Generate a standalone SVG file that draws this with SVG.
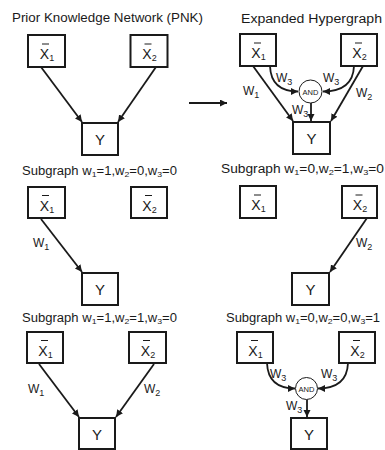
<svg xmlns="http://www.w3.org/2000/svg" width="385" height="450" viewBox="0 0 385 450">
<defs>
<marker id="ah" markerWidth="8" markerHeight="8" refX="7" refY="3.5" orient="auto" markerUnits="userSpaceOnUse">
<path d="M0,0 L7,3.5 L0,7 z" fill="#1a1a1a"/>
</marker>
<style>
text{font-family:"Liberation Sans",Arial,Helvetica,sans-serif;fill:#1a1a1a}
.title{font-size:12px}
.box{fill:#fff;stroke:#1a1a1a;stroke-width:2}
.and{fill:#fff;stroke:#1a1a1a;stroke-width:1}
.xl{font-size:14px}
.yl{font-size:15px}
.s{font-size:9px}
.ts{font-size:8px}
.wl{font-size:12px}
.andt{font-size:7.5px}
.bar{stroke:#1a1a1a;stroke-width:1}
.e{fill:none;stroke:#1a1a1a;stroke-width:1.8;marker-end:url(#ah)}
</style>
</defs>
<rect width="385" height="450" fill="#fff"/>

<!-- Titles -->
<g id="titles">
<text class="title" x="12" y="22" textLength="191" lengthAdjust="spacingAndGlyphs">Prior Knowledge Network (PNK)</text>
<text class="title" x="241" y="23" textLength="141" lengthAdjust="spacingAndGlyphs">Expanded Hypergraph</text>
<text class="title" x="22" y="175" textLength="155" lengthAdjust="spacingAndGlyphs">Subgraph w<tspan class="ts" dy="2">1</tspan><tspan dy="-2">=1,w</tspan><tspan class="ts" dy="2">2</tspan><tspan dy="-2">=0,w</tspan><tspan class="ts" dy="2">3</tspan><tspan dy="-2">=0</tspan></text>
<text class="title" x="221" y="173" textLength="163" lengthAdjust="spacingAndGlyphs">Subgraph w<tspan class="ts" dy="2">1</tspan><tspan dy="-2">=0,w</tspan><tspan class="ts" dy="2">2</tspan><tspan dy="-2">=1,w</tspan><tspan class="ts" dy="2">3</tspan><tspan dy="-2">=0</tspan></text>
<text class="title" x="22" y="322" textLength="155" lengthAdjust="spacingAndGlyphs">Subgraph w<tspan class="ts" dy="2">1</tspan><tspan dy="-2">=1,w</tspan><tspan class="ts" dy="2">2</tspan><tspan dy="-2">=1,w</tspan><tspan class="ts" dy="2">3</tspan><tspan dy="-2">=0</tspan></text>
<text class="title" x="226" y="322" textLength="154" lengthAdjust="spacingAndGlyphs">Subgraph w<tspan class="ts" dy="2">1</tspan><tspan dy="-2">=0,w</tspan><tspan class="ts" dy="2">2</tspan><tspan dy="-2">=0,w</tspan><tspan class="ts" dy="2">3</tspan><tspan dy="-2">=1</tspan></text>
</g>

<!-- Connectors -->
<g id="connectors">
<line class="e" x1="41" y1="67" x2="82" y2="122"/>
<line class="e" x1="156" y1="67" x2="118" y2="122"/>
<line class="e" x1="189" y1="103" x2="227" y2="103"/>
<line class="e" x1="253" y1="66" x2="293" y2="121"/>
<line class="e" x1="363" y1="66" x2="331" y2="121"/>
<path class="e" d="M270,66 Q271,91.5 298,91.5"/>
<path class="e" d="M354,66 Q353,91.5 323,91.5"/>
<line class="e" x1="311" y1="103" x2="311" y2="121"/>
<line class="e" x1="41" y1="219" x2="82" y2="272"/>
<line class="e" x1="367" y1="218" x2="330" y2="272"/>
<line class="e" x1="39" y1="364" x2="79" y2="417"/>
<line class="e" x1="154" y1="364" x2="116" y2="417"/>
<path class="e" d="M267,363 Q268,388.5 295,388.5"/>
<path class="e" d="M348,363 Q347,388.5 318,388.5"/>
<line class="e" x1="307" y1="399.5" x2="307" y2="417"/>
<text class="wl" x="243" y="95">W<tspan class="s" dy="3">1</tspan></text>
<text class="wl" x="356" y="97">W<tspan class="s" dy="3">2</tspan></text>
<text class="wl" x="276" y="82">W<tspan class="s" dy="3">3</tspan></text>
<text class="wl" x="323" y="82">W<tspan class="s" dy="3">3</tspan></text>
<text class="wl" x="292" y="114">W<tspan class="s" dy="3">3</tspan></text>
<text class="wl" x="33" y="247">W<tspan class="s" dy="3">1</tspan></text>
<text class="wl" x="356" y="247">W<tspan class="s" dy="3">2</tspan></text>
<text class="wl" x="28" y="393">W<tspan class="s" dy="3">1</tspan></text>
<text class="wl" x="144" y="393">W<tspan class="s" dy="3">2</tspan></text>
<text class="wl" x="270" y="378">W<tspan class="s" dy="3">3</tspan></text>
<text class="wl" x="321" y="378">W<tspan class="s" dy="3">3</tspan></text>
<text class="wl" x="286" y="410">W<tspan class="s" dy="3">3</tspan></text>
</g>

<!-- Panel: PNK -->
<g id="pnk-x1"><rect class="box" x="28" y="35" width="37" height="32"/><line class="bar" x1="42" y1="44" x2="49" y2="44"/><text class="xl" x="47" y="59" text-anchor="middle">X<tspan class="s" dy="2">1</tspan></text></g>
<g id="pnk-x2"><rect class="box" x="130.5" y="35" width="37" height="32"/><line class="bar" x1="144.5" y1="44" x2="151.5" y2="44"/><text class="xl" x="149.5" y="59" text-anchor="middle">X<tspan class="s" dy="2">2</tspan></text></g>
<g id="pnk-y"><rect class="box" x="82" y="123" width="36" height="32"/><text class="yl" x="100" y="145" text-anchor="middle">Y</text></g>

<!-- Panel: Expanded Hypergraph -->
<g id="hyp-x1"><rect class="box" x="240" y="34" width="36" height="32"/><line class="bar" x1="254" y1="43" x2="261" y2="43"/><text class="xl" x="258.5" y="58" text-anchor="middle">X<tspan class="s" dy="2">1</tspan></text></g>
<g id="hyp-x2"><rect class="box" x="341" y="34" width="36" height="32"/><line class="bar" x1="355" y1="43" x2="362" y2="43"/><text class="xl" x="359.5" y="58" text-anchor="middle">X<tspan class="s" dy="2">2</tspan></text></g>
<g id="hyp-and"><circle class="and" cx="310.5" cy="91.5" r="11.5"/><text class="andt" x="310.5" y="94.5" text-anchor="middle">AND</text></g>
<g id="hyp-y"><rect class="box" x="293" y="122" width="37" height="32"/><text class="yl" x="311.5" y="144" text-anchor="middle">Y</text></g>

<!-- Panel: w1 -->
<g id="s1-x1"><rect class="box" x="28" y="187" width="37" height="31"/><line class="bar" x1="42" y1="195.5" x2="49" y2="195.5"/><text class="xl" x="47" y="210.5" text-anchor="middle">X<tspan class="s" dy="2">1</tspan></text></g>
<g id="s1-x2"><rect class="box" x="131" y="187" width="36" height="31"/><line class="bar" x1="145" y1="195.5" x2="152" y2="195.5"/><text class="xl" x="149.5" y="210.5" text-anchor="middle">X<tspan class="s" dy="2">2</tspan></text></g>
<g id="s1-y"><rect class="box" x="82" y="273" width="36" height="32"/><text class="yl" x="100" y="295" text-anchor="middle">Y</text></g>

<!-- Panel: w2 -->
<g id="s2-x1"><rect class="box" x="240" y="186" width="36" height="32"/><line class="bar" x1="254" y1="195" x2="261" y2="195"/><text class="xl" x="258.5" y="210" text-anchor="middle">X<tspan class="s" dy="2">1</tspan></text></g>
<g id="s2-x2"><rect class="box" x="342" y="186" width="35" height="32"/><line class="bar" x1="355.5" y1="195" x2="362.5" y2="195"/><text class="xl" x="360" y="210" text-anchor="middle">X<tspan class="s" dy="2">2</tspan></text></g>
<g id="s2-y"><rect class="box" x="292" y="273" width="37" height="32"/><text class="yl" x="310.5" y="295" text-anchor="middle">Y</text></g>

<!-- Panel: w1,w2 -->
<g id="s3-x1"><rect class="box" x="27" y="332" width="36" height="31"/><line class="bar" x1="41" y1="340.5" x2="48" y2="340.5"/><text class="xl" x="45.5" y="355.5" text-anchor="middle">X<tspan class="s" dy="2">1</tspan></text></g>
<g id="s3-x2"><rect class="box" x="129" y="332" width="37" height="31"/><line class="bar" x1="143" y1="340.5" x2="150" y2="340.5"/><text class="xl" x="148" y="355.5" text-anchor="middle">X<tspan class="s" dy="2">2</tspan></text></g>
<g id="s3-y"><rect class="box" x="79" y="418" width="36" height="31"/><text class="yl" x="97" y="440" text-anchor="middle">Y</text></g>

<!-- Panel: w3 -->
<g id="s4-x1"><rect class="box" x="237" y="332" width="36" height="31"/><line class="bar" x1="251" y1="340.5" x2="258" y2="340.5"/><text class="xl" x="255.5" y="355.5" text-anchor="middle">X<tspan class="s" dy="2">1</tspan></text></g>
<g id="s4-x2"><rect class="box" x="339" y="332" width="36" height="31"/><line class="bar" x1="353" y1="340.5" x2="360" y2="340.5"/><text class="xl" x="357.5" y="355.5" text-anchor="middle">X<tspan class="s" dy="2">2</tspan></text></g>
<g id="s4-and"><circle class="and" cx="306.5" cy="388.5" r="11"/><text class="andt" x="306.5" y="391.5" text-anchor="middle">AND</text></g>
<g id="s4-y"><rect class="box" x="291" y="418" width="36" height="31"/><text class="yl" x="309" y="440" text-anchor="middle">Y</text></g>
</svg>
